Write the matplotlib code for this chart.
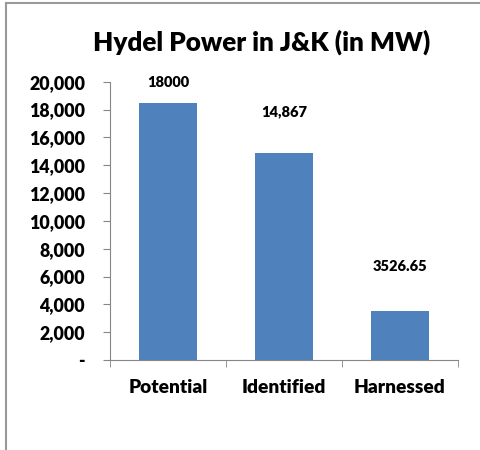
import matplotlib.pyplot as plt
from matplotlib.lines import Line2D

plt.rcParams['font.family'] = ['Lato', 'DejaVu Sans']

categories = ["Potential", "Identified", "Harnessed"]
values = [18450, 14867, 3526.65]
value_labels = ["18000", "14,867", "3526.65"]
label_offsets = [10, 25, 27]   # points above bar top
yticks = [0, 2000, 4000, 6000, 8000, 10000, 12000, 14000, 16000, 18000, 20000]

fig = plt.figure(figsize=(4.81, 4.50), dpi=100)
ax = fig.add_axes([110/481, 1 - 360/450, 348/481, (360 - 81.7)/450])

x = range(len(categories))
bars = ax.bar(x, values, width=0.5, color="#4F81BD")
ax.set_xlim(-0.5, 2.5)
ax.set_ylim(0, 20000)

ax.set_yticks(yticks)
ax.set_yticklabels(["-" if v == 0 else f"{v:,}" for v in yticks],
                   fontsize=12.8, fontweight="heavy")
ax.set_xticks(list(x))
ax.set_xticklabels(categories, fontsize=13.8, fontweight="heavy")
ax.set_xticks([-0.5, 0.5, 1.5, 2.5], minor=True)
ax.tick_params(axis="x", which="major", length=0, pad=14)
ax.tick_params(axis="x", which="minor", length=5, color="#868686")
ax.tick_params(axis="y", length=5, color="#868686", pad=13)

for s in ["top", "right"]:
    ax.spines[s].set_visible(False)
for s in ["left", "bottom"]:
    ax.spines[s].set_color("#868686")

for b, lab, off in zip(bars, value_labels, label_offsets):
    ax.annotate(lab, (b.get_x() + b.get_width() / 2, b.get_height()),
                xytext=(0, off), textcoords="offset points",
                ha="center", va="bottom", fontsize=10.5, fontweight="heavy")

fig.text(262/481, 1 - 42/450, "Hydel Power in J&K (in MW)", ha="center",
         va="center", fontsize=18.8, fontweight="heavy")

# chart frame (top and left edges visible)
fig.add_artist(Line2D([5.5/481, 1], [1 - 2.5/450, 1 - 2.5/450],
                      transform=fig.transFigure, color="#999999", lw=1.5))
fig.add_artist(Line2D([5.5/481, 5.5/481], [0, 1 - 2.5/450],
                      transform=fig.transFigure, color="#999999", lw=1.5))

fig.savefig("out.png", dpi=100)
